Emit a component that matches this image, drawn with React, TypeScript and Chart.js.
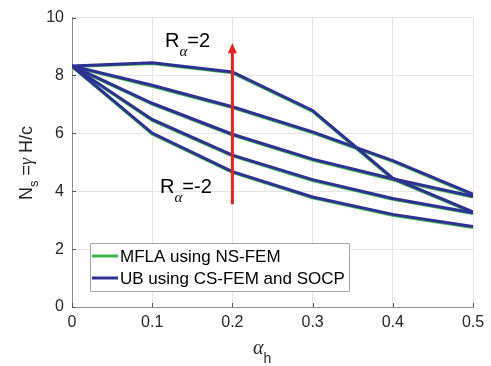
import React, { useEffect, useRef } from "react";
import { Chart, registerables } from "chart.js";

Chart.register(...registerables);

// ---- data ----
const alphaH = [0, 0.1, 0.2, 0.3, 0.4, 0.5];

// UB using CS-FEM and SOCP (R_alpha = 2, 1, 0, -1, -2)
const ubR2 = [8.33, 8.44, 8.12, 6.79, 4.45, 3.29];
const ubR1 = [8.33, 7.66, 6.92, 6.05, 5.06, 3.9];
const ubR0 = [8.33, 7.04, 5.97, 5.11, 4.43, 3.83];
const ubRm1 = [8.33, 6.48, 5.25, 4.4, 3.75, 3.26];
const ubRm2 = [8.33, 6.01, 4.68, 3.8, 3.2, 2.78];

// MFLA using NS-FEM (R_alpha = 2, 1, 0, -1, -2)
const mfR2 = [8.31, 8.41, 8.09, 6.76, 4.42, 3.26];
const mfR1 = [8.31, 7.63, 6.89, 6.02, 5.03, 3.87];
const mfR0 = [8.31, 7.01, 5.94, 5.08, 4.4, 3.8];
const mfRm1 = [8.31, 6.45, 5.22, 4.37, 3.72, 3.23];
const mfRm2 = [8.31, 5.98, 4.65, 3.77, 3.17, 2.75];

const arrowX = [0.2, 0.2];
const arrowY = [3.55, 8.8];
const arrowTip = 9.12;

const xTicks = [0, 0.1, 0.2, 0.3, 0.4, 0.5];
const yTicks = [0, 2, 4, 6, 8, 10];
const legendLabels = ["MFLA using NS-FEM", "UB using CS-FEM and SOCP"];

const BLUE = "rgb(46,49,146)";
const GREEN = "rgb(60,180,74)";
const RED = "rgb(240,32,30)";
const SANS = "'Liberation Sans', Arial, Helvetica, sans-serif";
const SERIF = "'Liberation Serif', 'Times New Roman', serif";
const TXT = "#262626";

const pts = (ys: number[]) => alphaH.map((x, i) => ({ x, y: ys[i] }));

type Seg = { t: string; font: string; dy?: number };
function drawSegs(ctx: CanvasRenderingContext2D, x: number, y: number, segs: Seg[]) {
  let cx = x;
  for (const s of segs) {
    ctx.font = s.font;
    ctx.fillText(s.t, cx, y + (s.dy || 0));
    cx += ctx.measureText(s.t).width;
  }
}

const overlay = {
  id: "overlay",
  beforeDatasetsDraw(chart: any) {
    const { ctx, chartArea, scales } = chart;
    ctx.save();
    ctx.strokeStyle = "#555";
    ctx.lineWidth = 1;
    for (const v of xTicks) {
      const px = Math.round(scales.x.getPixelForValue(v)) + 0.5;
      ctx.beginPath();
      ctx.moveTo(px, chartArea.bottom);
      ctx.lineTo(px, chartArea.bottom - 4);
      ctx.stroke();
    }
    for (const v of yTicks) {
      const py = Math.round(scales.y.getPixelForValue(v)) + 0.5;
      ctx.beginPath();
      ctx.moveTo(chartArea.left, py);
      ctx.lineTo(chartArea.left + 4, py);
      ctx.stroke();
    }
    ctx.restore();
  },
  afterDraw(chart: any) {
    const { ctx, scales } = chart;
    ctx.save();
    // arrow head
    const ax = scales.x.getPixelForValue(arrowX[1]);
    const ab = scales.y.getPixelForValue(arrowY[1]);
    const at = scales.y.getPixelForValue(arrowTip);
    ctx.fillStyle = RED;
    ctx.beginPath();
    ctx.moveTo(ax, at);
    ctx.lineTo(ax - 4.5, ab + 1);
    ctx.lineTo(ax + 4.5, ab + 1);
    ctx.closePath();
    ctx.fill();

    ctx.fillStyle = "#000";
    ctx.textBaseline = "alphabetic";
    ctx.textAlign = "left";
    // annotations
    drawSegs(ctx, 165, 47, [
      { t: "R", font: `20px ${SANS}` },
      { t: "α", font: `italic 15px ${SERIF}`, dy: 9 },
      { t: "=2", font: `20px ${SANS}` },
    ]);
    drawSegs(ctx, 160, 193, [
      { t: "R", font: `20px ${SANS}` },
      { t: "α", font: `italic 15px ${SERIF}`, dy: 9 },
      { t: "=-2", font: `20px ${SANS}` },
    ]);

    // axis titles
    ctx.fillStyle = TXT;
    drawSegs(ctx, 253, 354, [
      { t: "α", font: `italic 20px ${SERIF}` },
      { t: "h", font: `14px ${SANS}`, dy: 9 },
    ]);
    ctx.save();
    ctx.translate(32, 200);
    ctx.rotate(-Math.PI / 2);
    drawSegs(ctx, 0, 0, [
      { t: "N", font: `18px ${SANS}` },
      { t: "s", font: `13px ${SANS}`, dy: 6 },
      { t: " =", font: `18px ${SANS}` },
      { t: "γ", font: `italic 18px ${SERIF}` },
      { t: " H/c", font: `18px ${SANS}` },
    ]);
    ctx.restore();

    // legend
    const lx = 90, ly = 243, lw = 259, lh = 48;
    ctx.fillStyle = "#fff";
    ctx.fillRect(lx, ly, lw, lh);
    ctx.strokeStyle = "#a8a8a8";
    ctx.lineWidth = 1;
    ctx.strokeRect(lx + 0.5, ly + 0.5, lw, lh);
    const cols = [GREEN, BLUE];
    const rows = [256, 278];
    ctx.font = `17px ${SANS}`;
    ctx.textBaseline = "middle";
    for (let i = 0; i < 2; i++) {
      ctx.strokeStyle = cols[i];
      ctx.lineWidth = 3;
      ctx.beginPath();
      ctx.moveTo(92, rows[i]);
      ctx.lineTo(118, rows[i]);
      ctx.stroke();
      ctx.fillStyle = "#000";
      ctx.fillText(legendLabels[i], 120, rows[i] + 1);
    }
    ctx.restore();
  },
};

export default function App() {
  const ref = useRef<HTMLCanvasElement | null>(null);
  useEffect(() => {
    if (!ref.current) return;
    const ubs = [ubR2, ubR1, ubR0, ubRm1, ubRm2];
    const mfs = [mfR2, mfR1, mfR0, mfRm1, mfRm2];
    const datasets: any[] = [
      {
        label: "arrow",
        data: arrowX.map((x, i) => ({ x, y: arrowY[i] })),
        borderColor: RED,
        borderWidth: 3,
        pointRadius: 0,
        order: 0,
      },
      ...ubs.map((d, i) => ({
        label: "UB " + i,
        data: pts(d),
        borderColor: BLUE,
        borderWidth: 3,
        pointRadius: 0,
        order: 1,
      })),
      ...mfs.map((d, i) => ({
        label: "MFLA " + i,
        data: pts(d),
        borderColor: GREEN,
        borderWidth: 3,
        pointRadius: 0,
        order: 2,
      })),
    ];
    const chart = new Chart(ref.current, {
      type: "line",
      data: { datasets },
      options: {
        animation: false,
        responsive: false,
        maintainAspectRatio: false,
        layout: { padding: { top: 14, right: 18, left: 0, bottom: 0 } },
        plugins: { legend: { display: false }, tooltip: { enabled: false } },
        scales: {
          x: {
            type: "linear",
            min: 0,
            max: 0.5,
            afterBuildTicks: (s: any) => {
              s.ticks = xTicks.map((v) => ({ value: v }));
            },
            afterFit: (s: any) => {
              s.height = 59;
            },
            ticks: {
              color: TXT,
              font: { size: 16, family: SANS },
              padding: 6,
              maxRotation: 0,
              callback: (v: any) => String(Math.round(Number(v) * 10) / 10),
            },
            grid: { color: "#e4e4e4", drawTicks: false },
            border: { display: true, color: "#8c8c8c" },
          },
          y: {
            type: "linear",
            min: 0,
            max: 10,
            afterBuildTicks: (s: any) => {
              s.ticks = yTicks.map((v) => ({ value: v }));
            },
            afterFit: (s: any) => {
              s.width = 72;
            },
            ticks: {
              color: TXT,
              font: { size: 16, family: SANS },
              padding: 8,
            },
            grid: { color: "#e4e4e4", drawTicks: false },
            border: { display: true, color: "#8c8c8c" },
          },
        },
      },
      plugins: [overlay],
    });
    return () => chart.destroy();
  }, []);
  return (
    <div style={{ position: "absolute", left: 0, top: 0, width: 491, height: 366, background: "#fff" }}>
      <canvas ref={ref} width={491} height={366} style={{ width: 491, height: 366, display: "block" }} />
    </div>
  );
}
